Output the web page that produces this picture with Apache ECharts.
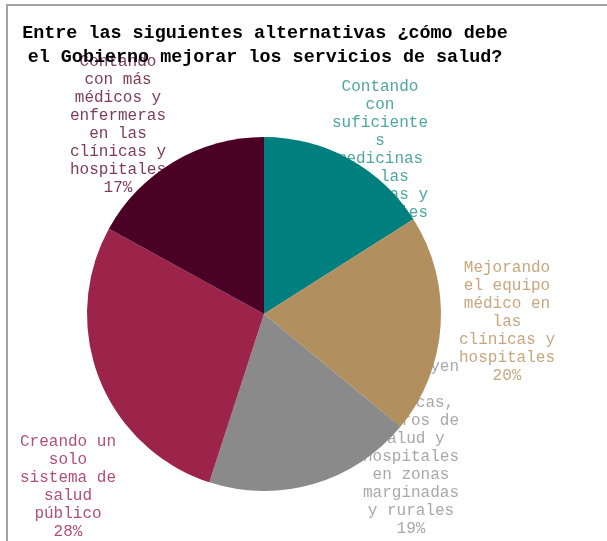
<!DOCTYPE html>
<html>
<head>
<meta charset="utf-8">
<script src="https://cdn.jsdelivr.net/npm/echarts@6/dist/echarts.min.js"></script>
<style>
html,body{margin:0;padding:0;background:#fff;overflow:hidden;}
#frame{position:absolute;left:6px;top:4px;width:700px;height:700px;border-left:2px solid #a3a3a3;border-top:2px solid #a3a3a3;}
#main{position:absolute;left:0;top:0;width:607px;height:541px;}
</style>
</head>
<body>
<div id="frame"></div>
<div id="main"></div>
<script>
const titleText = 'Entre las siguientes alternativas ¿cómo debe\nel Gobierno mejorar los servicios de salud?';
const categories = [
  'Contando con suficientes medicinas en las clínicas y hospitales',
  'Mejorando el equipo médico en las clínicas y hospitales',
  'Construyendo clínicas, centros de salud y hospitales en zonas marginadas y rurales',
  'Creando un solo sistema de salud público',
  'Contando con más médicos y enfermeras en las clínicas y hospitales'
];
const values = [16, 20, 19, 28, 17];
const sliceColors = ['#007f7f', '#b18f5f', '#8a8a8a', '#9c2349', '#4b0026'];
const labelColors = ['#4fa5a0', '#c8a67e', '#a8a8a8', '#b24f76', '#7d3d59'];
// label block centres (layout only)
const labelCenters = [[380, 159], [507, 322], [411, 448], [68, 487], [118, 125]];
const wrapChars = 10;

function wrap(text, max) {
  const lines = [];
  let cur = '';
  text.split(' ').forEach(w => {
    const pieces = [];
    while (w.length > max) { pieces.push(w.slice(0, max)); w = w.slice(max); }
    pieces.push(w);
    pieces.forEach(p => {
      if (cur === '') cur = p;
      else if ((cur + ' ' + p).length <= max) cur = cur + ' ' + p;
      else { lines.push(cur); cur = p; }
    });
  });
  if (cur) lines.push(cur);
  return lines.join('\n');
}

const chart = echarts.init(document.getElementById('main'));
const font = "'Liberation Mono', 'Courier New', monospace";
const center = [264, 314];
const radius = 177;

chart.setOption({
  animation: false,
  title: {
    text: titleText,
    left: 265,
    top: 21,
    padding: 0,
    textAlign: 'center',
    textStyle: {fontFamily: font, fontWeight: 'bold', fontSize: 18.4, lineHeight: 24, color: '#000'}
  },
  series: [
    {
      type: 'pie',
      z: 1,
      center: center,
      radius: radius,
      startAngle: 90,
      silent: true,
      data: categories.map((c, i) => ({
        name: c, value: values[i],
        itemStyle: {color: 'rgba(0,0,0,0)'},
        label: {color: labelColors[i]}
      })),
      label: {
        show: true,
        position: 'inside',
        formatter: p => wrap(p.name, wrapChars) + '\n' + p.value + '%',
        fontFamily: font,
        fontSize: 16,
        lineHeight: 18,
        align: 'center'
      },
      labelLine: {show: false},
      labelLayout: p => ({
        x: labelCenters[p.dataIndex][0],
        y: labelCenters[p.dataIndex][1],
        align: 'center',
        verticalAlign: 'middle',
        rotate: 0
      })
    },
    {
      type: 'pie',
      z: 3,
      center: center,
      radius: radius,
      startAngle: 90,
      data: categories.map((c, i) => ({
        name: c, value: values[i],
        itemStyle: {color: sliceColors[i]}
      })),
      label: {show: false},
      labelLine: {show: false}
    }
  ]
});
</script>
</body>
</html>
